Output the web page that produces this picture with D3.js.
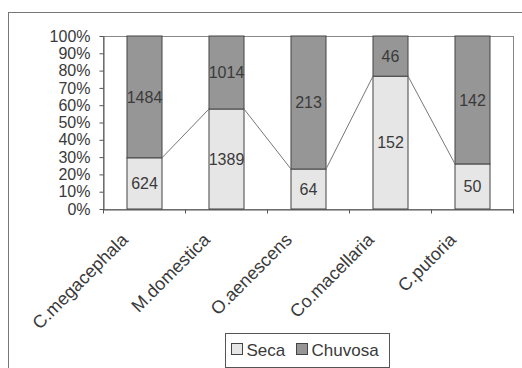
<!DOCTYPE html>
<html>
<head>
<meta charset="utf-8">
<script src="https://cdn.jsdelivr.net/npm/d3@7"></script>
<style>
  body { margin: 0; background: #fff; }
  svg { font-family: "Liberation Sans", Arial, sans-serif; }
</style>
</head>
<body>
<div id="chart"></div>
<script>
// ---------------------------------------------------------------------------
// Data
// ---------------------------------------------------------------------------
const categories = ["C.megacephala", "M.domestica", "O.aenescens", "Co.macellaria", "C.putoria"];
const seca = [624, 1389, 64, 152, 50];
const chuvosa = [1484, 1014, 213, 46, 142];
const yTicks = [0, 10, 20, 30, 40, 50, 60, 70, 80, 90, 100];
const seriesNames = ["Seca", "Chuvosa"];

// ---------------------------------------------------------------------------
// Set up
// ---------------------------------------------------------------------------
const width = 522, height = 368;
const plot = { left: 103, right: 513, top: 36, bottom: 209 };
const colors = { Seca: "#e6e6e6", Chuvosa: "#969696" };
const textColor = "#3a3a3a";

const svg = d3.select("#chart").append("svg")
  .attr("width", width)
  .attr("height", height);

// outer frame
svg.append("rect")
  .attr("x", 8.5).attr("y", 12.5)
  .attr("width", 600).attr("height", 400)
  .attr("fill", "none").attr("stroke", "#777");

// Scales
const x = d3.scaleBand()
  .domain(categories)
  .range([plot.left, plot.right])
  .paddingInner(0.573)
  .paddingOuter(0.2865);

const y = d3.scaleLinear()
  .domain([0, 1])
  .range([plot.bottom, plot.top]);

const edges = d3.scaleLinear()
  .domain([0, categories.length])
  .range([plot.left, plot.right]);

const rows = categories.map((c, i) => {
  const total = seca[i] + chuvosa[i];
  return { cat: c, seca: seca[i], chuvosa: chuvosa[i], p: seca[i] / total };
});

// plot area border
svg.append("rect")
  .attr("x", plot.left + 0.5).attr("y", plot.top + 0.5)
  .attr("width", plot.right - plot.left).attr("height", plot.bottom - plot.top)
  .attr("fill", "none").attr("stroke", "#888");

// ---------------------------------------------------------------------------
// Axes
// ---------------------------------------------------------------------------
const yAxis = svg.append("g")
  .attr("transform", "translate(" + (plot.left + 0.5) + ",0)")
  .call(d3.axisLeft(y)
    .tickValues(yTicks.map(d => d / 100))
    .tickFormat(d3.format(".0%"))
    .tickSize(4)
    .tickSizeOuter(0));
yAxis.selectAll("text")
  .attr("x", -13)
  .style("font-size", "16px")
  .style("font-family", "Liberation Sans, Arial, sans-serif")
  .attr("fill", textColor);
yAxis.selectAll("line, path").attr("stroke", "#555");

const xAxis = svg.append("g")
  .attr("transform", "translate(0," + (plot.bottom + 0.5) + ")")
  .call(d3.axisBottom(edges)
    .tickValues(d3.range(categories.length + 1))
    .tickFormat("")
    .tickSize(4)
    .tickSizeOuter(0));
xAxis.selectAll("line, path").attr("stroke", "#555");

// category labels
svg.append("g").selectAll("text")
  .data(categories)
  .join("text")
  .attr("transform", d => "translate(" + (x(d) + x.bandwidth() / 2 - 15) + "," + 241 + ") rotate(-45)")
  .attr("text-anchor", "end")
  .style("font-size", "18px")
  .attr("fill", textColor)
  .text(d => d);

// ---------------------------------------------------------------------------
// Bars
// ---------------------------------------------------------------------------
const bars = svg.append("g");

bars.selectAll("rect.seca")
  .data(rows)
  .join("rect")
  .attr("class", "seca")
  .attr("x", d => x(d.cat) + 0.5)
  .attr("y", d => y(d.p))
  .attr("width", x.bandwidth())
  .attr("height", d => y(0) - y(d.p))
  .attr("fill", colors.Seca)
  .attr("stroke", "#444");

bars.selectAll("rect.chuvosa")
  .data(rows)
  .join("rect")
  .attr("class", "chuvosa")
  .attr("x", d => x(d.cat) + 0.5)
  .attr("y", y(1))
  .attr("width", x.bandwidth())
  .attr("height", d => y(d.p) - y(1))
  .attr("fill", colors.Chuvosa)
  .attr("stroke", "#444");

// series lines between seca tops
const links = rows.slice(0, -1).map((d, i) => [d, rows[i + 1]]);
svg.append("g").selectAll("line")
  .data(links)
  .join("line")
  .attr("x1", d => x(d[0].cat) + x.bandwidth() + 0.5)
  .attr("y1", d => y(d[0].p))
  .attr("x2", d => x(d[1].cat) + 0.5)
  .attr("y2", d => y(d[1].p))
  .attr("stroke", "#777")
  .attr("stroke-width", 1);

// value labels
const labels = svg.append("g")
  .attr("text-anchor", "middle")
  .style("font-size", "16px")
  .attr("fill", textColor);

labels.selectAll("text.s")
  .data(rows)
  .join("text")
  .attr("class", "s")
  .attr("x", d => x(d.cat) + x.bandwidth() / 2 + 0.5)
  .attr("y", d => (y(0) + y(d.p)) / 2)
  .attr("dy", "0.36em")
  .text(d => d.seca);

labels.selectAll("text.c")
  .data(rows)
  .join("text")
  .attr("class", "c")
  .attr("x", d => x(d.cat) + x.bandwidth() / 2 + 0.5)
  .attr("y", d => (y(1) + y(d.p)) / 2)
  .attr("dy", "0.36em")
  .text(d => d.chuvosa);

// ---------------------------------------------------------------------------
// Legend
// ---------------------------------------------------------------------------
const legend = svg.append("g").attr("transform", "translate(225.5,333.5)");
legend.append("rect")
  .attr("width", 164).attr("height", 34)
  .attr("fill", "#fff").attr("stroke", "#555");

const legendX = [6, 71];
const items = legend.selectAll("g.item")
  .data(seriesNames)
  .join("g")
  .attr("class", "item")
  .attr("transform", (d, i) => "translate(" + legendX[i] + ",10)");
items.append("rect")
  .attr("width", 11).attr("height", 11)
  .attr("fill", d => colors[d])
  .attr("stroke", "#444");
items.append("text")
  .attr("x", 15).attr("y", 12)
  .style("font-size", "17px")
  .attr("fill", textColor)
  .text(d => d);
</script>
</body>
</html>
